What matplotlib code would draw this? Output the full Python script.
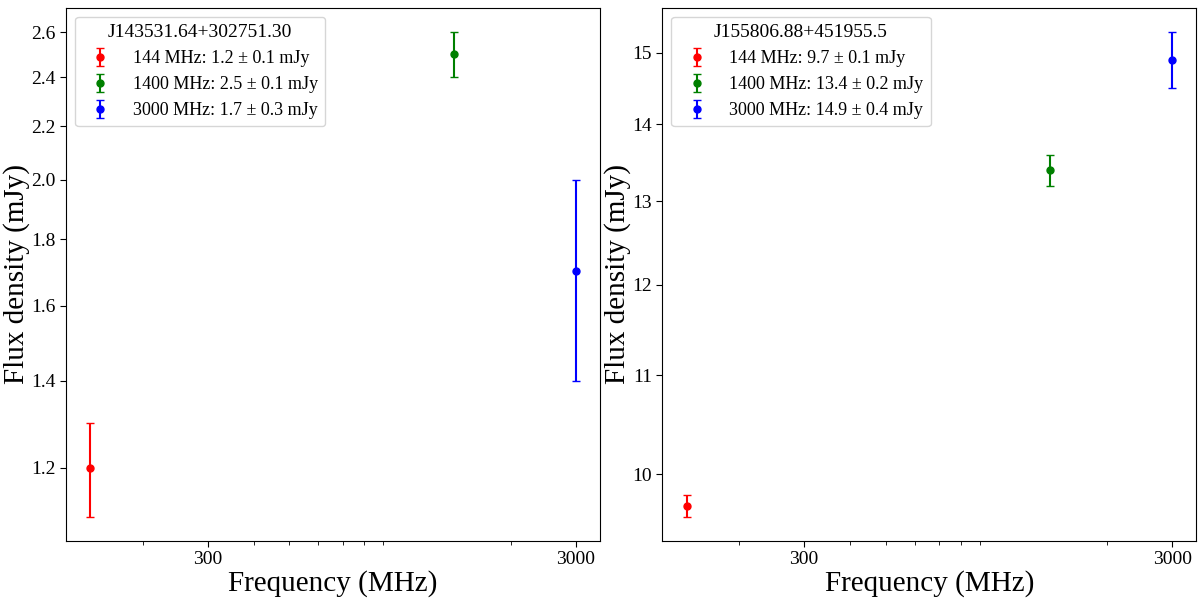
import matplotlib
matplotlib.use('Agg')
import matplotlib.pyplot as plt
import matplotlib.ticker as ticker

plt.rcParams['font.family'] = ['Liberation Serif', 'DejaVu Serif']
plt.rcParams['mathtext.fontset'] = 'stix'

freqs = [144, 1400, 3000]
colors = ['red', 'green', 'blue']

names = ['J143531.64+302751.30', 'J155806.88+451955.5']
flux = [[1.2, 2.5, 1.7], [9.7, 13.4, 14.9]]
flux_err = [[0.1, 0.1, 0.3], [0.1, 0.2, 0.4]]
yticks = [[1.2, 1.4, 1.6, 1.8, 2.0, 2.2, 2.4, 2.6], [10, 11, 12, 13, 14, 15]]
xticks = [300, 3000]

fig, axes = plt.subplots(1, 2, figsize=(12, 6.03), dpi=100)
fig.subplots_adjust(left=0.055, right=0.997, bottom=0.103, top=0.987, wspace=0.117)

for ax, name, f, e, yt in zip(axes, names, flux, flux_err, yticks):
    for nu, s, ds, c in zip(freqs, f, e, colors):
        ax.errorbar(nu, s, yerr=ds, fmt='o', color=c, ecolor=c, markersize=5,
                    capsize=3, elinewidth=1.5,
                    label=f'{nu} MHz: {s} ± {ds} mJy')
    ax.set_xscale('log')
    ax.set_yscale('log')
    ax.set_xticks(xticks)
    ax.xaxis.set_major_formatter(ticker.ScalarFormatter())
    ax.xaxis.set_minor_formatter(ticker.NullFormatter())
    ax.set_yticks(yt)
    ax.yaxis.set_major_formatter(ticker.FormatStrFormatter('%g' if yt[0] >= 10 else '%.1f'))
    ax.yaxis.set_minor_locator(ticker.NullLocator())
    ax.tick_params(axis='both', which='major', labelsize=14, length=4)
    ax.tick_params(axis='x', which='minor', length=3)
    ax.set_xlabel('Frequency (MHz)', fontsize=21, labelpad=1)
    ax.set_ylabel('Flux density (mJy)', fontsize=21, labelpad=1)
    ax.legend(title=name, loc='upper left', fontsize=13, title_fontsize=14)

plt.savefig('out.png')
